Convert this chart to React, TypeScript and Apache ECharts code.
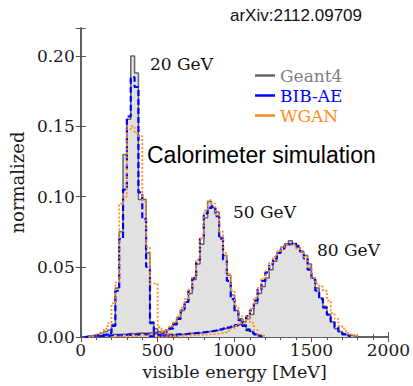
import React, { useEffect, useRef } from 'react';
import * as echarts from 'echarts';

// Histogram bin width in MeV (bins start at 0)
const BIN_WIDTH = 25;
const X_MIN = 0;
const X_MAX = 2000;
const X_STEP = 500;
const Y_MIN = 0;
const Y_MAX = 0.22;
const Y_STEP = 0.05;

const legendNames = ['Geant4', 'BIB-AE', 'WGAN'];
const energyLabels = ['20 GeV', '50 GeV', '80 GeV'];

// ---- 20 GeV ----
const geant4_20_start = 1;
const geant4_20 = [0.0005, 0.001, 0.0015, 0.002, 0.003, 0.004, 0.005, 0.009, 0.035, 0.075, 0.13, 0.155, 0.2, 0.188, 0.098, 0.098, 0.06, 0.011, 0.006, 0.004, 0.003, 0.002, 0.002, 0.001];
const bibae_20_start = 1;
const bibae_20 = [0.0003, 0.0005, 0.001, 0.001, 0.0015, 0.002, 0.003, 0.008, 0.033, 0.07, 0.105, 0.157, 0.185, 0.178, 0.103, 0.084, 0.05, 0.01, 0.004, 0.002, 0.001, 0.001, 0.0005];
const wgan_20_start = 2;
const wgan_20 = [0.0005, 0.001, 0.002, 0.003, 0.006, 0.01, 0.024, 0.039, 0.095, 0.1, 0.148, 0.15, 0.145, 0.143, 0.097, 0.064, 0.038, 0.038, 0.007, 0.004, 0.002, 0.001];

// ---- 50 GeV ----
const geant4_50_start = 5;
const geant4_50 = [0.001, 0.001, 0.0015, 0.002, 0.0018, 0.002, 0.0022, 0.0025, 0.0024, 0.0027, 0.003, 0.0028, 0.003, 0.0032, 0.0035, 0.004, 0.0042,
  0.005, 0.007, 0.01, 0.014, 0.019, 0.025, 0.031, 0.041, 0.052, 0.066, 0.085, 0.0965, 0.092, 0.089, 0.071, 0.058, 0.044, 0.03, 0.019, 0.013, 0.009, 0.006, 0.004, 0.002, 0.001];
const bibae_50_start = 5;
const bibae_50 = [0.0008, 0.001, 0.001, 0.0012, 0.0013, 0.0012, 0.0015, 0.0016, 0.0015, 0.0018, 0.002, 0.0019, 0.002, 0.0022, 0.0025, 0.003, 0.0035,
  0.004, 0.006, 0.009, 0.013, 0.019, 0.025, 0.033, 0.042, 0.055, 0.07, 0.088, 0.092, 0.093, 0.086, 0.07, 0.055, 0.04, 0.027, 0.018, 0.012, 0.008, 0.005, 0.003, 0.002, 0.001];
const wgan_50_start = 8;
const wgan_50 = [0.0004, 0.0005, 0.0005, 0.0006, 0.0006, 0.0008, 0.0008, 0.001, 0.0012, 0.0015, 0.002, 0.0022, 0.003, 0.0038,
  0.005, 0.008, 0.011, 0.015, 0.021, 0.027, 0.034, 0.043, 0.055, 0.07, 0.09, 0.0975, 0.095, 0.087, 0.075, 0.06, 0.045, 0.033, 0.022, 0.015, 0.012, 0.013, 0.01, 0.005, 0.002, 0.001];

// ---- 80 GeV ----
const geant4_80_start = 20;
const geant4_80 = [0.001, 0.0012, 0.0015, 0.0013, 0.0018, 0.002, 0.0019, 0.0024, 0.0027, 0.0025, 0.003, 0.0034, 0.0036, 0.0041, 0.0045, 0.0049, 0.0052, 0.006, 0.0066, 0.0072,
  0.008, 0.009, 0.011, 0.013, 0.016, 0.024, 0.031, 0.036, 0.042, 0.048, 0.054, 0.06, 0.064, 0.0665, 0.0685, 0.0667, 0.064, 0.061, 0.058, 0.052, 0.042, 0.035, 0.028, 0.022, 0.016, 0.011, 0.006, 0.004, 0.0025, 0.0015, 0.001, 0.0005];
const bibae_80_start = 18;
const bibae_80 = [0.0008, 0.001, 0.0011, 0.0013, 0.0012, 0.0015, 0.0017, 0.0019, 0.002, 0.0023, 0.0026, 0.0028, 0.003, 0.0033, 0.0037, 0.004, 0.0045, 0.005, 0.0056, 0.0062, 0.0068, 0.0075,
  0.0085, 0.01, 0.012, 0.015, 0.019, 0.026, 0.034, 0.04, 0.046, 0.052, 0.056, 0.06, 0.063, 0.065, 0.066, 0.0667, 0.065, 0.061, 0.056, 0.048, 0.041, 0.033, 0.027, 0.021, 0.016, 0.011, 0.007, 0.004, 0.002, 0.001];
const wgan_80_start = 20;
const wgan_80 = [0.0005, 0.0006, 0.0005, 0.0007, 0.0008, 0.0008, 0.001, 0.001, 0.0012, 0.0013, 0.0015, 0.0016, 0.0018, 0.002, 0.0022, 0.0025, 0.003, 0.0035, 0.0045, 0.006, 0.008,
  0.01, 0.012, 0.015, 0.02, 0.028, 0.035, 0.042, 0.047, 0.053, 0.057, 0.061, 0.064, 0.0655, 0.0655, 0.065, 0.063, 0.061, 0.057, 0.05, 0.042, 0.038, 0.036, 0.033, 0.026, 0.017, 0.013, 0.008, 0.006, 0.003, 0.002, 0.001];

const GREY_LINE = '#666666';
const GREY_FILL = '#e1e1e1';
const BLUE = '#0000ff';
const ORANGE = '#ff8c1a';
const SERIF = "'DejaVu Serif', serif";
const SANS = "'Liberation Sans', Arial, sans-serif";

function stepPoints(start: number, values: number[]): number[][] {
  const pts: number[][] = [[start * BIN_WIDTH, 0]];
  values.forEach((v, i) => {
    pts.push([(start + i) * BIN_WIDTH, v]);
    pts.push([(start + i + 1) * BIN_WIDTH, v]);
  });
  pts.push([(start + values.length) * BIN_WIDTH, 0]);
  return pts;
}

export default function App() {
  const ref = useRef<HTMLDivElement>(null);
  useEffect(() => {
    if (!ref.current) return;
    const chart = echarts.init(ref.current, undefined, { renderer: 'svg' });

    const geant = [
      [geant4_20_start, geant4_20],
      [geant4_50_start, geant4_50],
      [geant4_80_start, geant4_80],
    ] as [number, number[]][];
    const bib = [
      [bibae_20_start, bibae_20],
      [bibae_50_start, bibae_50],
      [bibae_80_start, bibae_80],
    ] as [number, number[]][];
    const wgan = [
      [wgan_20_start, wgan_20],
      [wgan_50_start, wgan_50],
      [wgan_80_start, wgan_80],
    ] as [number, number[]][];

    const series: any[] = [];
    geant.forEach(([s, v], i) => {
      series.push({
        name: 'fill' + i, type: 'line', data: stepPoints(s, v), symbol: 'none', silent: true,
        lineStyle: { width: 0 }, areaStyle: { color: GREY_FILL, opacity: 1 }, z: 1,
      });
    });
    geant.forEach(([s, v]) => {
      series.push({
        name: legendNames[0], type: 'line', data: stepPoints(s, v), symbol: 'none', silent: true,
        color: GREY_LINE, lineStyle: { width: 1.5, color: GREY_LINE }, z: 2,
      });
    });
    bib.forEach(([s, v]) => {
      series.push({
        name: legendNames[1], type: 'line', data: stepPoints(s, v), symbol: 'none', silent: true,
        color: BLUE, lineStyle: { width: 2.2, color: BLUE, type: [6, 3] }, z: 3,
      });
    });
    wgan.forEach(([s, v]) => {
      series.push({
        name: legendNames[2], type: 'line', data: stepPoints(s, v), symbol: 'none', silent: true,
        color: ORANGE, lineStyle: { width: 1.8, color: ORANGE, type: [2, 2] }, z: 4,
      });
    });

    const axisLine = { show: true, lineStyle: { color: '#555', width: 1.5 } };
    const tick = { show: true, inside: true, length: 5, lineStyle: { color: '#555', width: 1 } };

    chart.setOption({
      animation: false,
      backgroundColor: '#fff',
      grid: { left: 78, right: 21, top: 28, bottom: 44, containLabel: false },
      legend: {
        orient: 'vertical', left: 255, top: 67, padding: 0, itemGap: 3,
        icon: 'rect', itemWidth: 20, itemHeight: 2.5,
        data: [
          { name: legendNames[0], textStyle: { color: '#808080' } },
          { name: legendNames[1], textStyle: { color: BLUE } },
          { name: legendNames[2], textStyle: { color: ORANGE } },
        ],
        textStyle: { fontFamily: SERIF, fontSize: 17, padding: [0, 0, 0, 0] },
        selectedMode: false,
      },
      xAxis: [
        {
          type: 'value', min: X_MIN, max: X_MAX, interval: X_STEP, position: 'bottom',
          name: 'visible energy [MeV]', nameLocation: 'middle', nameGap: 25,
          nameTextStyle: { fontFamily: SERIF, fontSize: 17.5, color: '#1a1a1a' },
          axisLine, axisTick: tick,
          minorTick: { show: true, splitNumber: 5, length: 3, lineStyle: { color: '#555' } },
          axisLabel: { fontFamily: SERIF, fontSize: 17, color: '#1a1a1a', margin: 4, formatter: (v: number) => String(v) },
          splitLine: { show: false },
        },
        {
          type: 'value', min: X_MIN, max: X_MAX, interval: X_STEP, position: 'top',
          axisLine, axisTick: tick,
          minorTick: { show: true, splitNumber: 5, length: 3, lineStyle: { color: '#555' } },
          axisLabel: { show: false }, splitLine: { show: false },
        },
      ],
      yAxis: [
        {
          type: 'value', min: Y_MIN, max: Y_MAX, interval: Y_STEP, position: 'left',
          name: 'normalized', nameLocation: 'middle', nameGap: 47,
          nameTextStyle: { fontFamily: SERIF, fontSize: 18, color: '#1a1a1a' },
          axisLine, axisTick: tick,
          axisLabel: {
            fontFamily: SERIF, fontSize: 17, color: '#1a1a1a', margin: 6,
            formatter: (v: number) => (v > 0.201 ? '' : v.toFixed(2)),
          },
          splitLine: { show: false },
        },
        {
          type: 'value', min: Y_MIN, max: Y_MAX, interval: Y_STEP, position: 'right',
          axisLine, axisTick: tick, axisLabel: { show: false }, splitLine: { show: false },
        },
      ],
      graphic: [
        { type: 'text', left: 230, top: 7, style: { text: 'arXiv:2112.09709', font: `17px ${SANS}`, fill: '#111' } },
        { type: 'text', left: 150, top: 55, style: { text: energyLabels[0], font: `17px ${SERIF}`, fill: '#111' } },
        { type: 'text', left: 233, top: 203, style: { text: energyLabels[1], font: `17px ${SERIF}`, fill: '#111' } },
        { type: 'text', left: 317, top: 241, style: { text: energyLabels[2], font: `17px ${SERIF}`, fill: '#111' } },
        { type: 'text', left: 147, top: 143, style: { text: 'Calorimeter simulation', font: `23px ${SANS}`, fill: '#000' } },
      ],
      series,
    });
    return () => chart.dispose();
  }, []);
  return <div ref={ref} style={{ position: 'fixed', left: 0, top: 0, width: 413, height: 386 }} />;
}
